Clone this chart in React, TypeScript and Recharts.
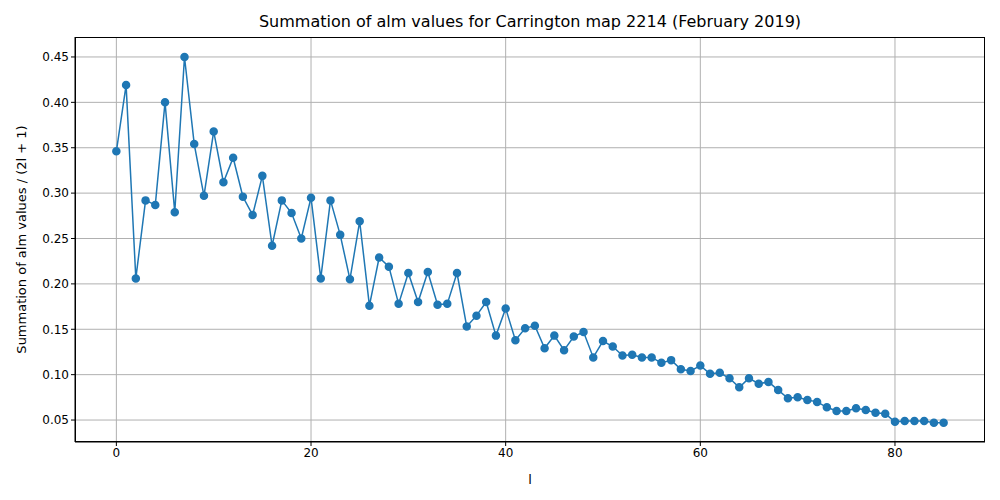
import { LineChart, Line, XAxis, YAxis, CartesianGrid, Label } from "recharts";

const values = [
  0.346, 0.419, 0.206, 0.292, 0.287, 0.4, 0.279, 0.45, 0.354, 0.297,
  0.368, 0.312, 0.339, 0.296, 0.276, 0.319, 0.242, 0.292, 0.278, 0.25,
  0.295, 0.206, 0.292, 0.254, 0.205, 0.269, 0.176, 0.229, 0.219, 0.178,
  0.212, 0.18, 0.213, 0.177, 0.178, 0.212, 0.153, 0.165, 0.18, 0.143,
  0.173, 0.138, 0.151, 0.154, 0.129, 0.143, 0.127, 0.142, 0.147, 0.119,
  0.137, 0.131, 0.121, 0.122, 0.119, 0.119, 0.113, 0.116, 0.106, 0.104,
  0.11, 0.101, 0.102, 0.096, 0.086, 0.096, 0.09, 0.092, 0.083, 0.074,
  0.075, 0.072, 0.07, 0.064, 0.06, 0.06, 0.063, 0.061, 0.058, 0.057,
  0.048, 0.049, 0.049, 0.049, 0.047, 0.047,
];
const xTicks = [0, 20, 40, 60, 80];
const yTicks = [0.05, 0.1, 0.15, 0.2, 0.25, 0.3, 0.35, 0.4, 0.45];

const data = values.map((v, l) => ({ l, v }));
const font = "DejaVu Sans";

export default function App() {
  return (
    <div style={{ position: "absolute", left: 0, top: 0, width: 1000, height: 500, fontFamily: font }}>
      <div
        style={{
          position: "absolute",
          top: 12,
          width: 1060,
          textAlign: "center",
          fontSize: 16,
          color: "#000",
        }}
      >
        Summation of alm values for Carrington map 2214 (February 2019)
      </div>
      <LineChart
        width={1000}
        height={500}
        data={data}
        margin={{ top: 37, right: 15, left: 15, bottom: 28 }}
      >
        <CartesianGrid stroke="#b0b0b0" strokeWidth={1} horizontalValues={yTicks} verticalValues={xTicks} />
        <XAxis
          dataKey="l"
          type="number"
          domain={[-4.25, 89.25]}
          ticks={xTicks}
          height={30}
          stroke="#000"
          tick={{ fill: "#000", fontSize: 12, fontFamily: font }}
          tickSize={4}
        >
          <Label value="l" position="insideBottom" offset={-12} style={{ fill: "#000", fontSize: 13, fontFamily: font }} />
        </XAxis>
        <YAxis
          type="number"
          domain={[0.0258, 0.472]}
          ticks={yTicks}
          width={60}
          stroke="#000"
          tick={{ fill: "#000", fontSize: 12, fontFamily: font }}
          tickSize={4}
          tickFormatter={(t: number) => t.toFixed(2)}
        >
          <Label
            value="Summation of alm values / (2l + 1)"
            angle={-90}
            position="insideLeft"
            offset={6}
            style={{ textAnchor: "middle", fill: "#000", fontSize: 13, fontFamily: font }}
          />
        </YAxis>
        <Line
          dataKey="v"
          stroke="#1f77b4"
          strokeWidth={1.5}
          dot={{ r: 3.5, fill: "#1f77b4", stroke: "#1f77b4" }}
          isAnimationActive={false}
        />
      </LineChart>
      <div
        style={{
          position: "absolute",
          left: 75,
          top: 37,
          width: 910,
          height: 405,
          border: "1px solid #000",
          boxSizing: "border-box",
          pointerEvents: "none",
        }}
      />
    </div>
  );
}
